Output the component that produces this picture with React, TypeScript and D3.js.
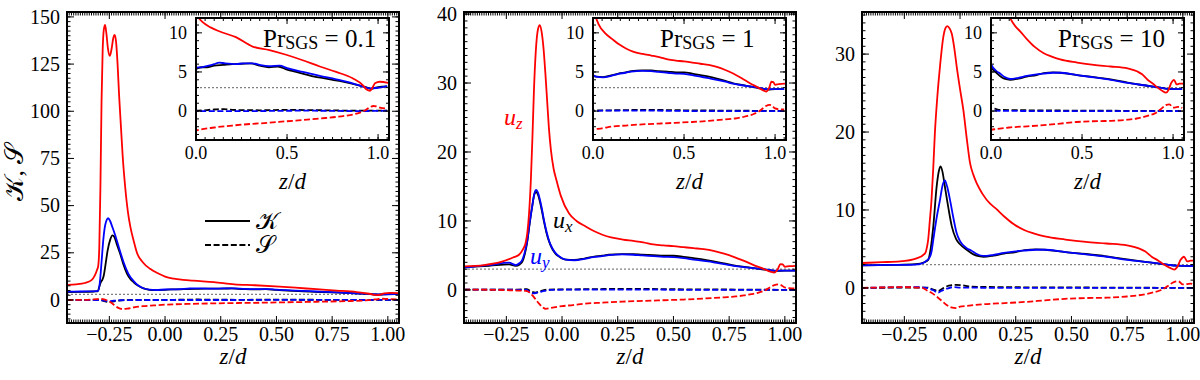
import * as d3 from "d3";

type Pt = [number, number];

// ---- Pr_SGS = 0.1 : kurtosis (solid) and skewness (dashed) of u_x, u_y, u_z
const p1Kx: Pt[] = [
  [-0.44, 4.2], [-0.38, 4.3], [-0.32, 4.5], [-0.302, 4.6], [-0.295, 7], [-0.288, 9.5], [-0.282, 10.5],
  [-0.275, 13], [-0.268, 18], [-0.258, 26], [-0.246, 32], [-0.236, 34.2], [-0.228, 33.5], [-0.215, 29],
  [-0.2, 24], [-0.186, 18.5], [-0.171, 14], [-0.155, 11], [-0.141, 9.4], [-0.12, 7.5], [-0.097, 6.1],
  [-0.07, 5.4], [-0.04, 5.2], [0.0, 5.4], [0.03, 5.6], [0.06, 5.6], [0.1, 5.8], [0.15, 5.9], [0.2, 6.0],
  [0.25, 6.05], [0.3, 6.1], [0.35, 5.8], [0.4, 5.6], [0.45, 5.7], [0.5, 5.3], [0.55, 5.0], [0.6, 4.7],
  [0.65, 4.4], [0.7, 4.2], [0.75, 4.0], [0.8, 3.8], [0.85, 3.55], [0.9, 3.25], [0.94, 3.0], [0.96, 2.85],
  [0.98, 2.95], [1.0, 3.05], [1.05, 3.15],
];
const p1Ky: Pt[] = [
  [-0.44, 4.4], [-0.38, 4.5], [-0.32, 4.6], [-0.3, 4.8], [-0.292, 10], [-0.285, 20], [-0.277, 32],
  [-0.268, 40], [-0.255, 43.3], [-0.247, 42], [-0.236, 38.5], [-0.223, 34], [-0.205, 27], [-0.186, 20],
  [-0.165, 14], [-0.141, 10], [-0.12, 7.7], [-0.097, 6.2], [-0.07, 5.5], [-0.04, 5.3], [0.0, 5.55],
  [0.03, 5.6], [0.07, 5.8], [0.1, 6.0], [0.127, 6.2], [0.16, 6.1], [0.219, 6.0], [0.26, 6.1], [0.311, 6.1],
  [0.35, 5.9], [0.4, 5.75], [0.46, 5.8], [0.5, 5.5], [0.586, 5.0], [0.68, 4.5], [0.77, 4.05], [0.86, 3.55],
  [0.92, 3.1], [0.956, 2.9], [0.99, 2.95], [1.05, 3.2],
];
const p1Kz: Pt[] = [
  [-0.44, 8.0], [-0.4, 8.3], [-0.36, 9.0], [-0.33, 10.5], [-0.315, 13], [-0.305, 16], [-0.3, 18],
  [-0.295, 28], [-0.29, 60], [-0.285, 105], [-0.28, 132], [-0.275, 143], [-0.269, 145.7], [-0.263, 141],
  [-0.256, 133], [-0.248, 129.3], [-0.24, 133], [-0.232, 139], [-0.226, 140.4], [-0.22, 137],
  [-0.213, 125], [-0.206, 108], [-0.198, 92], [-0.19, 76], [-0.179, 60], [-0.167, 47], [-0.156, 39],
  [-0.14, 31], [-0.126, 25], [-0.1, 20], [-0.067, 16.5], [-0.03, 14], [0.0, 12.4], [0.04, 11.3],
  [0.08, 10.7], [0.127, 10.2], [0.219, 9.45], [0.311, 8.25], [0.403, 7.8], [0.495, 7.2], [0.586, 6.5],
  [0.68, 5.7], [0.77, 5.0], [0.86, 4.2], [0.917, 3.3], [0.937, 2.75], [0.956, 2.6], [0.97, 3.0],
  [0.983, 3.55], [1.01, 3.75], [1.055, 3.6],
];
const p1Sx: Pt[] = [
  [-0.44, 0], [-0.3, 0.1], [-0.28, -0.3], [-0.26, -1.0], [-0.24, -0.9], [-0.22, -0.5], [-0.18, -0.1],
  [-0.1, 0.05], [0, 0.05], [0.1, 0.2], [0.15, 0.25], [0.2, 0.15], [0.35, 0.1], [0.5, 0.15], [0.7, 0.1],
  [0.9, 0.05], [1.05, 0.05],
];
const p1Sy: Pt[] = [
  [-0.44, -0.05], [-0.3, -0.05], [-0.27, -0.4], [-0.25, -0.6], [-0.23, -0.4], [-0.2, -0.15], [-0.1, 0],
  [0.3, 0.0], [0.6, 0.05], [0.9, 0.0], [1.05, 0.05],
];
const p1Sz: Pt[] = [
  [-0.44, 0.0], [-0.35, 0.1], [-0.31, 0.4], [-0.29, 0.6], [-0.27, 0.2], [-0.25, -0.8], [-0.23, -2.5],
  [-0.21, -4.2], [-0.19, -4.8], [-0.17, -4.6], [-0.14, -3.9], [-0.1, -3.3], [-0.05, -2.9], [0.0, -2.5],
  [0.1, -2.1], [0.2, -1.85], [0.3, -1.65], [0.4, -1.5], [0.5, -1.3], [0.586, -1.15], [0.68, -0.95],
  [0.77, -0.75], [0.82, -0.6], [0.86, -0.45], [0.9, -0.2], [0.93, 0.1], [0.956, 0.5], [0.975, 0.65],
  [0.99, 0.6], [1.01, 0.45], [1.05, 0.3],
];

// ---- Pr_SGS = 1
const p2Kx: Pt[] = [
  [-0.44, 3.3], [-0.327, 3.5], [-0.238, 3.7], [-0.208, 3.5], [-0.19, 3.7], [-0.178, 4.1], [-0.167, 5.2],
  [-0.156, 7.0], [-0.145, 9.7], [-0.133, 12.3], [-0.124, 13.9], [-0.116, 14.2], [-0.108, 13.8],
  [-0.1, 12.9], [-0.09, 11.4], [-0.081, 9.9], [-0.07, 8.3], [-0.058, 7.0], [-0.043, 5.9], [-0.028, 5.2],
  [-0.01, 4.75], [0.0, 4.55], [0.017, 4.4], [0.056, 4.35], [0.1, 4.55], [0.14, 4.8], [0.18, 4.95],
  [0.21, 5.1], [0.27, 5.2], [0.32, 5.2], [0.36, 5.1], [0.41, 5.05], [0.455, 4.95], [0.5, 4.95],
  [0.545, 4.8], [0.59, 4.6], [0.636, 4.4], [0.68, 4.15], [0.727, 3.85], [0.77, 3.55], [0.817, 3.35],
  [0.86, 3.15], [0.908, 2.95], [0.94, 2.8], [0.962, 2.75], [1.0, 2.8], [1.05, 2.8],
];
const p2Ky: Pt[] = [
  [-0.44, 3.2], [-0.417, 3.3], [-0.327, 3.6], [-0.238, 3.95], [-0.208, 3.6], [-0.19, 3.9], [-0.178, 4.4],
  [-0.167, 5.5], [-0.156, 7.2], [-0.145, 9.8], [-0.133, 12.3], [-0.124, 14.0], [-0.116, 14.5],
  [-0.108, 14.1], [-0.1, 13.2], [-0.09, 11.7], [-0.081, 10.1], [-0.07, 8.5], [-0.058, 7.1], [-0.043, 6.0],
  [-0.028, 5.3], [-0.01, 4.8], [0.0, 4.6], [0.017, 4.4], [0.056, 4.3], [0.1, 4.5], [0.14, 4.75],
  [0.18, 4.9], [0.21, 5.05], [0.27, 5.15], [0.32, 5.1], [0.36, 5.0], [0.41, 4.9], [0.455, 4.8], [0.5, 4.75],
  [0.545, 4.6], [0.59, 4.4], [0.636, 4.2], [0.68, 4.0], [0.727, 3.75], [0.77, 3.5], [0.817, 3.3],
  [0.86, 3.15], [0.908, 3.0], [0.94, 2.85], [0.962, 2.8], [1.0, 2.8], [1.05, 2.8],
];
const p2Kz: Pt[] = [
  [-0.44, 3.4], [-0.35, 3.6], [-0.27, 4.1], [-0.22, 4.7], [-0.193, 5.1], [-0.175, 5.9], [-0.163, 6.9],
  [-0.155, 8.5], [-0.148, 11.1], [-0.14, 15.9], [-0.133, 22], [-0.126, 29], [-0.118, 34.5], [-0.108, 37.8],
  [-0.1, 38.4], [-0.092, 37.5], [-0.083, 35], [-0.075, 31.5], [-0.067, 27.5], [-0.059, 23.5], [-0.05, 20.3],
  [-0.038, 17.6], [-0.025, 15.9], [-0.005, 13.6], [0.031, 11.1], [0.065, 10.0], [0.106, 9.2], [0.145, 8.5],
  [0.181, 8.0], [0.22, 7.6], [0.273, 7.3], [0.32, 7.1], [0.364, 6.9], [0.41, 6.6], [0.455, 6.45],
  [0.5, 6.35], [0.545, 6.2], [0.59, 6.05], [0.636, 5.9], [0.68, 5.65], [0.727, 5.25], [0.77, 4.8],
  [0.817, 4.2], [0.86, 3.6], [0.908, 3.0], [0.935, 2.65], [0.953, 2.5], [0.968, 3.0], [0.98, 3.75],
  [0.99, 3.7], [1.0, 3.35], [1.02, 3.45], [1.055, 3.5],
];
const p2Sx: Pt[] = [
  [-0.44, 0.05], [-0.2, 0.05], [-0.16, 0.1], [-0.14, -0.2], [-0.12, -0.4], [-0.1, -0.2], [-0.06, 0.05],
  [0.1, 0.1], [0.3, 0.15], [0.5, 0.1], [0.8, 0.05], [1.05, 0.0],
];
const p2Sy: Pt[] = [
  [-0.44, 0.05], [-0.16, 0.0], [-0.145, -0.3], [-0.13, -0.5], [-0.11, -0.4], [-0.08, -0.15], [-0.05, 0.0],
  [0.1, 0.05], [0.3, 0.05], [0.6, 0.0], [0.9, 0.0], [1.05, 0.0],
];
const p2Sz: Pt[] = [
  [-0.44, 0.05], [-0.3, 0.0], [-0.2, -0.1], [-0.163, -0.15], [-0.145, -0.4], [-0.133, -0.8], [-0.118, -1.4],
  [-0.103, -2.0], [-0.088, -2.5], [-0.073, -2.75], [-0.05, -2.6], [0.0, -2.35], [0.05, -2.2], [0.1, -2.0],
  [0.18, -1.85], [0.27, -1.7], [0.364, -1.6], [0.45, -1.5], [0.545, -1.4], [0.636, -1.25], [0.727, -1.07],
  [0.78, -0.95], [0.817, -0.8], [0.85, -0.6], [0.87, -0.5], [0.89, -0.3], [0.908, -0.1], [0.93, 0.3],
  [0.95, 0.65], [0.97, 0.8], [0.98, 0.75], [1.0, 0.35], [1.02, 0.25], [1.05, 0.2],
];

// ---- Pr_SGS = 10
const p3Kx: Pt[] = [
  [-0.44, 2.9], [-0.3, 2.95], [-0.2, 3.05], [-0.16, 3.3], [-0.143, 3.6], [-0.132, 5.0], [-0.12, 7.9],
  [-0.105, 13.0], [-0.095, 15.0], [-0.087, 15.6], [-0.078, 14.8], [-0.068, 13.0], [-0.052, 10.2],
  [-0.037, 7.9], [-0.018, 6.3], [0.0, 5.6], [0.03, 4.9], [0.06, 4.3], [0.09, 4.05], [0.105, 4.0],
  [0.15, 4.15], [0.197, 4.4], [0.25, 4.6], [0.29, 4.85], [0.34, 4.95], [0.38, 4.9], [0.473, 4.6],
  [0.565, 4.35], [0.657, 4.05], [0.75, 3.65], [0.84, 3.3], [0.93, 3.0], [0.97, 2.85], [1.05, 2.8],
];
const p3Ky: Pt[] = [
  [-0.44, 2.9], [-0.3, 2.95], [-0.2, 3.0], [-0.165, 3.2], [-0.15, 3.5], [-0.135, 4.0], [-0.127, 4.8],
  [-0.12, 6.2], [-0.105, 9.0], [-0.09, 11.3], [-0.078, 13.2], [-0.068, 13.8], [-0.058, 13.0],
  [-0.045, 11.3], [-0.03, 9.0], [-0.015, 7.0], [0.0, 6.0], [0.03, 5.1], [0.05, 4.8], [0.075, 4.35],
  [0.105, 4.1], [0.15, 4.25], [0.197, 4.5], [0.25, 4.7], [0.29, 4.8], [0.34, 4.9], [0.38, 4.9],
  [0.473, 4.6], [0.565, 4.3], [0.657, 4.0], [0.75, 3.6], [0.84, 3.3], [0.93, 3.0], [0.97, 2.85], [1.05, 2.8],
];
const p3Kz: Pt[] = [
  [-0.44, 3.2], [-0.35, 3.3], [-0.27, 3.4], [-0.195, 3.8], [-0.158, 4.4], [-0.148, 5.3], [-0.143, 6.2],
  [-0.136, 8.5], [-0.128, 11.3], [-0.12, 15.5], [-0.113, 19.8], [-0.102, 24.5], [-0.09, 28.4],
  [-0.075, 32.2], [-0.066, 33.3], [-0.057, 33.6], [-0.047, 33.3], [-0.037, 32.6], [-0.026, 30.8],
  [-0.015, 28.4], [0.0, 25.5], [0.015, 22.8], [0.03, 19.2], [0.045, 16.0], [0.06, 14.5], [0.075, 13.4],
  [0.1, 12.1], [0.135, 10.8], [0.16, 10.2], [0.197, 9.2], [0.24, 8.2], [0.29, 7.4], [0.33, 7.0],
  [0.38, 6.6], [0.473, 6.2], [0.565, 5.9], [0.657, 5.7], [0.75, 5.45], [0.805, 5.05], [0.83, 4.7],
  [0.86, 4.0], [0.89, 3.5], [0.915, 3.0], [0.94, 2.6], [0.961, 2.35], [0.975, 2.7], [0.99, 3.6],
  [1.005, 4.0], [1.02, 3.4], [1.035, 3.5], [1.055, 3.5],
];
const p3Sx: Pt[] = [
  [-0.44, 0.0], [-0.15, 0.05], [-0.12, -0.2], [-0.1, -0.4], [-0.08, -0.1], [-0.05, 0.3], [-0.02, 0.4],
  [0.02, 0.3], [0.05, 0.15], [0.2, 0.1], [0.6, 0.05], [1.05, 0.0],
];
const p3Sy: Pt[] = [
  [-0.44, 0.0], [-0.2, 0.1], [-0.15, 0.0], [-0.12, -0.3], [-0.1, -0.6], [-0.085, -0.4], [-0.06, -0.1],
  [-0.03, 0.1], [0.0, 0.05], [0.3, 0.0], [0.6, 0.0], [0.9, 0.0], [1.05, 0.0],
];
const p3Sz: Pt[] = [
  [-0.44, 0.0], [-0.25, 0.1], [-0.17, 0.0], [-0.15, -0.3], [-0.13, -0.6], [-0.105, -1.1], [-0.08, -1.7],
  [-0.06, -2.2], [-0.04, -2.5], [-0.015, -2.6], [0.0, -2.4], [0.03, -2.3], [0.1, -2.1], [0.2, -1.95],
  [0.29, -1.8], [0.38, -1.6], [0.47, -1.4], [0.56, -1.3], [0.66, -1.25], [0.75, -1.1], [0.8, -0.95],
  [0.84, -0.75], [0.87, -0.55], [0.9, -0.3], [0.93, 0.2], [0.96, 0.75], [0.98, 0.85], [1.0, 0.45],
  [1.02, 0.5], [1.035, 0.55], [1.05, 0.4],
];

const prValues = ["0.1", "1", "10"];
const mainXTicks = [-0.25, 0, 0.25, 0.5, 0.75, 1.0];
const insetXTicks = [0, 0.5, 1.0];
const insetYTicks = [0, 5, 10];
const p1YTicks = [0, 25, 50, 75, 100, 125, 150];
const p2YTicks = [0, 10, 20, 30, 40];
const p3YTicks = [0, 10, 20, 30];
const gaussKurtosis = 3;

const colors = ["#000000", "#0000ff", "#ff0000"]; // u_x, u_y, u_z
const FONT = "Liberation Serif, DejaVu Serif, serif";
const serif = { fontFamily: FONT };

const panels = [
  { left: 67, yDomain: [-12.2, 152.6], yTicks: p1YTicks, yMinor: 2.5, K: [p1Kx, p1Ky, p1Kz], S: [p1Sx, p1Sy, p1Sz] },
  { left: 464, yDomain: [-4.8, 40.3], yTicks: p2YTicks, yMinor: 1, K: [p2Kx, p2Ky, p2Kz], S: [p2Sx, p2Sy, p2Sz] },
  { left: 862, yDomain: [-4.5, 35.4], yTicks: p3YTicks, yMinor: 1, K: [p3Kx, p3Ky, p3Kz], S: [p3Sx, p3Sy, p3Sz] },
];

function steps(min: number, max: number, step: number) {
  const out: number[] = [];
  for (let i = Math.ceil(min / step - 1e-9); i * step <= max + 1e-9; i++) out.push(i * step);
  return out;
}

// ticks pointing inward on all four sides
function Ticks({ x, y, xMajor, xMinor, yMajor, yMinor, maj, min }: any) {
  const [L, R] = x.range();
  const [B, T] = y.range();
  const lines: any[] = [];
  xMinor.forEach((v: number) => {
    const px = x(v);
    lines.push(<line key={"xb" + v} x1={px} x2={px} y1={B} y2={B - min} />);
    lines.push(<line key={"xt" + v} x1={px} x2={px} y1={T} y2={T + min} />);
  });
  xMajor.forEach((v: number) => {
    const px = x(v);
    lines.push(<line key={"XB" + v} x1={px} x2={px} y1={B} y2={B - maj} />);
    lines.push(<line key={"XT" + v} x1={px} x2={px} y1={T} y2={T + maj} />);
  });
  yMinor.forEach((v: number) => {
    const py = y(v);
    lines.push(<line key={"yl" + v} x1={L} x2={L + min} y1={py} y2={py} />);
    lines.push(<line key={"yr" + v} x1={R} x2={R - min} y1={py} y2={py} />);
  });
  yMajor.forEach((v: number) => {
    const py = y(v);
    lines.push(<line key={"YL" + v} x1={L} x2={L + maj} y1={py} y2={py} />);
    lines.push(<line key={"YR" + v} x1={R} x2={R - maj} y1={py} y2={py} />);
  });
  return <g stroke="#000" strokeWidth={1}>{lines}</g>;
}

function Curves({ x, y, K, S }: any) {
  const line = d3
    .line<Pt>()
    .x((d) => x(d[0]))
    .y((d) => y(d[1]))
    .curve(d3.curveMonotoneX);
  const [L, R] = x.range();
  return (
    <g fill="none">
      <line x1={L} x2={R} y1={y(gaussKurtosis)} y2={y(gaussKurtosis)} stroke="#808080" strokeWidth={1.2} strokeDasharray="2,2" />
      {S.map((s: Pt[], i: number) => (
        <path key={"s" + i} d={line(s) || ""} stroke={colors[i]} strokeWidth={1.8} strokeDasharray="6,2.6" />
      ))}
      {K.map((k: Pt[], i: number) => (
        <path key={"k" + i} d={line(k) || ""} stroke={colors[i]} strokeWidth={1.8} />
      ))}
    </g>
  );
}

function ZD({ x, y, size }: any) {
  return (
    <text x={x} y={y} textAnchor="middle" fontSize={size} style={serif}>
      <tspan fontStyle="italic">z</tspan>
      <tspan>/</tspan>
      <tspan fontStyle="italic">d</tspan>
    </text>
  );
}

function Panel({ cfg, idx }: any) {
  const W = 332;
  const L = cfg.left, R = L + W, T = 12, B = 323;
  const x = d3.scaleLinear().domain([-0.44, 1.05]).range([L, R]);
  const y = d3.scaleLinear().domain(cfg.yDomain).range([B, T]);
  const iL = L + 129, iR = R - 10, iT = 18, iB = 140;
  const xi = d3.scaleLinear().domain([0, 1.06]).range([iL, iR]);
  const yi = d3.scaleLinear().domain([-3.7, 11.9]).range([iB, iT]);
  const fmtX = (v: number) => (v < 0 ? "\u2212" : "") + Math.abs(v).toFixed(2);

  return (
    <g>
      <defs>
        <clipPath id={"cm" + idx}><rect x={L} y={T} width={W} height={B - T} /></clipPath>
        <clipPath id={"ci" + idx}><rect x={iL} y={iT} width={iR - iL} height={iB - iT} /></clipPath>
      </defs>
      <g clipPath={`url(#cm${idx})`}>
        <Curves x={x} y={y} K={cfg.K} S={cfg.S} />
      </g>
      <Ticks x={x} y={y} xMajor={mainXTicks} xMinor={steps(-0.44, 1.05, 0.01)}
        yMajor={cfg.yTicks} yMinor={steps(cfg.yDomain[0], cfg.yDomain[1], cfg.yMinor)} maj={7} min={3.5} />
      <rect x={L} y={T} width={W} height={B - T} fill="none" stroke="#000" strokeWidth={2} />
      <g fontSize={20} fill="#000" style={serif}>
        {cfg.yTicks.map((v: number) => (
          <text key={v} x={L - 7} y={y(v)} dy="0.33em" textAnchor="end">{v}</text>
        ))}
        {mainXTicks.map((v) => (
          <text key={v} x={x(v)} y={341} textAnchor="middle">{fmtX(v)}</text>
        ))}
      </g>
      <ZD x={(L + R) / 2} y={364} size={23} />

      {/* inset */}
      <rect x={iL} y={iT} width={iR - iL} height={iB - iT} fill="#fff" />
      <g clipPath={`url(#ci${idx})`}>
        <Curves x={xi} y={yi} K={cfg.K} S={cfg.S} />
      </g>
      <Ticks x={xi} y={yi} xMajor={insetXTicks} xMinor={steps(0, 1.06, 0.05)}
        yMajor={insetYTicks} yMinor={steps(-3.7, 11.9, 1)} maj={6} min={3} />
      <rect x={iL} y={iT} width={iR - iL} height={iB - iT} fill="none" stroke="#000" strokeWidth={2} />
      <g fontSize={18} fill="#000" style={serif}>
        {insetYTicks.map((v) => (
          <text key={v} x={iL - 9} y={yi(v)} dy="0.33em" textAnchor="end">{v}</text>
        ))}
        {insetXTicks.map((v) => (
          <text key={v} x={xi(v)} y={159} textAnchor="middle">{v.toFixed(1)}</text>
        ))}
      </g>
      <ZD x={(iL + iR) / 2} y={189} size={23} />
      <text x={iL + 67} y={47} fontSize={25} style={serif}>
        Pr<tspan fontSize={18} dy={2}>SGS</tspan><tspan dy={-2}> = {prValues[idx]}</tspan>
      </text>
    </g>
  );
}

export default function App() {
  return (
    <div style={{ position: "absolute", left: 0, top: 0 }}>
      <svg width={1200} height={380} style={{ display: "block", background: "#fff", fontFamily: FONT }}>
        {panels.map((p, i) => (
          <Panel key={i} cfg={p} idx={i} />
        ))}
        {/* y label */}
        <text transform="translate(23,172) rotate(-90)" textAnchor="middle" fontSize={26} style={serif}>
          𝒦, 𝒮
        </text>
        {/* legend, first panel */}
        <g>
          <line x1={205} x2={250} y1={221} y2={221} stroke="#000" strokeWidth={1.8} />
          <line x1={205} x2={250} y1={245} y2={245} stroke="#000" strokeWidth={1.8} strokeDasharray="6,2.6" />
          <text x={256} y={229} fontSize={24} style={serif}>𝒦</text>
          <text x={256} y={253} fontSize={24} style={serif}>𝒮</text>
        </g>
        {/* component labels, second panel */}
        <g fontSize={24} fontStyle="italic" style={serif}>
          <text x={504} y={125} fill="#ff0000">u<tspan fontSize={17} dy={4}>z</tspan></text>
          <text x={553} y={228} fill="#000">u<tspan fontSize={17} dy={4}>x</tspan></text>
          <text x={530} y={264} fill="#0000ff">u<tspan fontSize={17} dy={4}>y</tspan></text>
        </g>
      </svg>
    </div>
  );
}
